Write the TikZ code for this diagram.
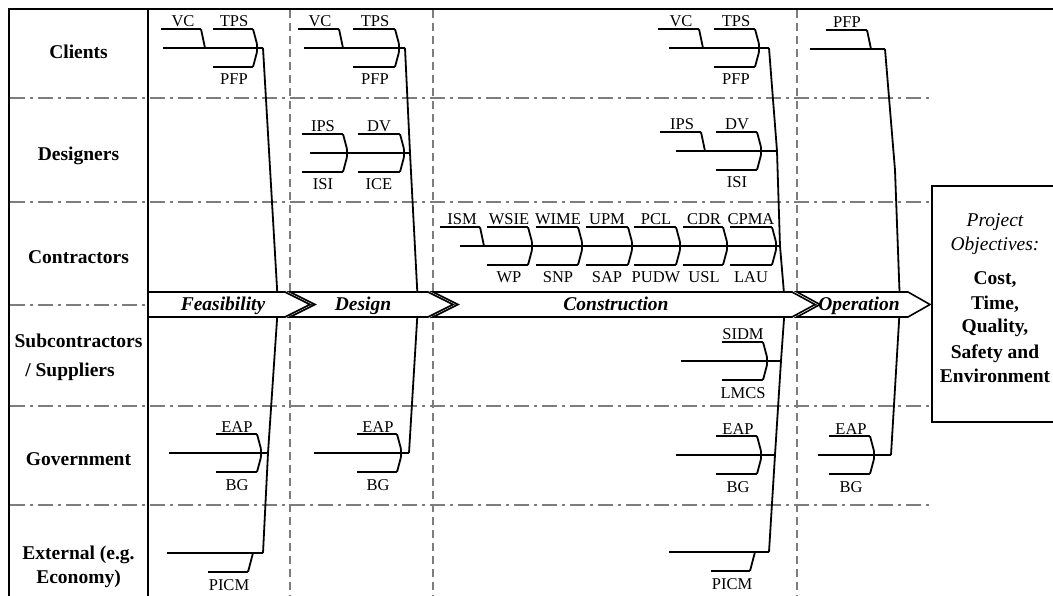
\documentclass[tikz,border=0pt]{standalone}
\usepackage{fontspec}
\setmainfont{Liberation Serif}
\definecolor{sepgray}{RGB}{125,125,125}
\tikzset{
  frame/.style={line width=2.8pt, black},
  hsep/.style={sepgray, line width=2.7pt, dash pattern=on 15pt off 5pt on 3pt off 5pt},
  vsep/.style={sepgray, line width=2.5pt, dash pattern=on 8pt off 5pt},
  bone/.style={line width=1.8pt, black, rounded corners=1pt},
  phasebox/.style={draw=black, fill=white, line width=1.6pt, line join=miter},
  lab/.style={font=\fontsize{16.5}{18}\selectfont, anchor=base, inner sep=0pt},
  rowlab/.style={font=\fontsize{19.5}{22}\selectfont\bfseries, anchor=base, inner sep=0pt},
  phaselab/.style={font=\fontsize{19.5}{22}\selectfont\bfseries\itshape, anchor=base, inner sep=0pt},
  objit/.style={font=\fontsize{19.5}{22}\selectfont\itshape, anchor=base, inner sep=0pt},
  objbf/.style={font=\fontsize{19.5}{22}\selectfont\bfseries, anchor=base, inner sep=0pt},
}
\newcommand\fbpair[7]{%
  \draw[bone] (#2,#4-19) -- (#3,#4-19) -- (#3+4,#4-4) -- (#3+4,#4+4) -- (#3,#4+19) -- (#2,#4+19);
  \node[lab] (#1t) at (#7,#4-21) {#5};
  \node[lab] (#1b) at (#7,#4+37) {#6};}
\newcommand\fbtop[6]{%
  \draw[bone] (#2,#4-19) -- (#3,#4-19) -- (#3+4,#4);
  \node[lab] (#1) at (#6,#4-21) {#5};}
\newcommand\fbbot[6]{%
  \draw[bone] (#2,#4+19) -- (#3,#4+19) -- (#3+5,#4);
  \node[lab] (#1) at (#6,#4+37) {#5};}
\begin{document}
\begin{tikzpicture}[x=1pt,y=-1pt]
\useasboundingbox (0,0) rectangle (1053,596);
\clip (0,0) rectangle (1053,596);
% separators
\foreach \yy in {98,202,305,406,505} \draw[hsep] (10,\yy) -- (930,\yy);
\foreach \xx in {290,433,797} \draw[vsep] (\xx,10) -- (\xx,600);
% spines
\draw[bone] (263,48) -- (278,305) -- (268,453) -- (263,553);
\draw[bone] (405,48) -- (410,153) -- (418,305) -- (409,453);
\draw[bone] (769,48) -- (777,151) -- (780,246) -- (785,305) -- (781,361) -- (775,455) -- (769,552);
\draw[bone] (885,49) -- (895,170) -- (900,305) -- (891,455);
% main lines
\draw[bone] (163,48) -- (263,48);
\draw[bone] (304,48) -- (405,48);
\draw[bone] (310,153) -- (410,153);
\draw[bone] (169,453) -- (268,453);
\draw[bone] (167,553) -- (263,553);
\draw[bone] (314,453) -- (409,453);
\draw[bone] (669,48) -- (769,48);
\draw[bone] (676,151) -- (777,151);
\draw[bone] (460,246) -- (780,246);
\draw[bone] (681,361) -- (781,361);
\draw[bone] (676,455) -- (775,455);
\draw[bone] (669,552) -- (769,552);
\draw[bone] (810,49) -- (885,49);
\draw[bone] (818,455) -- (891,455);
% Feasibility
\fbtop{fvc}{161}{201}{48}{VC}{183}
\fbpair{ftps}{213}{253}{48}{TPS}{PFP}{234}
\fbpair{feap}{216}{257}{453}{EAP}{BG}{237}
\fbbot{fpicm}{208}{248}{553}{PICM}{229}
% Design
\fbtop{dvc}{298}{339}{48}{VC}{320}
\fbpair{dtps}{353}{395}{48}{TPS}{PFP}{375}
\fbpair{dips}{302}{343}{153}{IPS}{ISI}{323}
\fbpair{ddv}{358}{400}{153}{DV}{ICE}{379}
\fbpair{deap}{357}{397}{453}{EAP}{BG}{378}
% Construction
\fbtop{cvc}{658}{699}{48}{VC}{681}
\fbpair{ctps}{714}{755}{48}{TPS}{PFP}{736}
\fbtop{cips}{660}{701}{151}{IPS}{682}
\fbpair{cdv}{716}{757}{151}{DV}{ISI}{737}
\fbtop{cism}{440}{480}{246}{ISM}{462}
\fbpair{cwsie}{487}{528}{246}{WSIE}{WP}{509}
\fbpair{cwime}{536}{578}{246}{WIME}{SNP}{558}
\fbpair{cupm}{586}{628}{246}{UPM}{SAP}{607}
\fbpair{cpcl}{634}{676}{246}{PCL}{PUDW}{656}
\fbpair{ccdr}{683}{723}{246}{CDR}{USL}{704}
\fbpair{ccpma}{730}{772}{246}{CPMA}{LAU}{751}
\fbpair{csidm}{722}{763}{361}{SIDM}{LMCS}{743}
\fbpair{ceap}{716}{757}{455}{EAP}{BG}{738}
\fbbot{cpicm}{711}{750}{552}{PICM}{732}
% Operation
\fbtop{opfp}{826}{867}{49}{PFP}{847}
\fbpair{oeap}{829}{870}{455}{EAP}{BG}{851}
% phase arrows
\draw[phasebox] (148,292) -- (285,292) -- (310,304.5) -- (285,317) -- (148,317) -- cycle;
\draw[phasebox] (290,292) -- (428,292) -- (453,304.5) -- (428,317) -- (290,317) -- (315,304.5) -- cycle;
\draw[phasebox] (433,292) -- (792,292) -- (815,304.5) -- (792,317) -- (433,317) -- (458,304.5) -- cycle;
\draw[phasebox] (797,292) -- (908,292) -- (930,304.5) -- (908,317) -- (797,317) -- (820,304.5) -- cycle;
\node[phaselab] (pf) at (223,311) {Feasibility};
\node[phaselab] (pd) at (363,311) {Design};
\node[phaselab] (pc) at (616,311) {Construction};
\node[phaselab] (po) at (859,311) {Operation};
% frame
\draw[frame] (1060,9) -- (9,9) -- (9,600);
\draw[frame] (148,9) -- (148,600);
\draw[frame] (932,186) rectangle (1060,422);
% row labels
\node[rowlab] (r1) at (78.5,59) {Clients};
\node[rowlab] (r2) at (78.5,161) {Designers};
\node[rowlab] (r3) at (78.5,264) {Contractors};
\node[rowlab] (r4a) at (78.5,347) {Subcontractors};
\node[rowlab] (r4b) at (70,376) {/ Suppliers};
\node[rowlab] (r5) at (78.5,465) {Government};
\node[rowlab] (r6a) at (78.5,559) {External (e.g.};
\node[rowlab] (r6b) at (78.5,583) {Economy)};
% objectives
\node[objit] (o1) at (995,227) {Project};
\node[objit] (o2) at (995,251) {Objectives:};
\node[objbf] (o3) at (995,285) {Cost,};
\node[objbf] (o4) at (995,309) {Time,};
\node[objbf] (o5) at (995,333) {Quality,};
\node[objbf] (o6) at (995,358) {Safety and};
\node[objbf] (o7) at (995,382) {Environment};
\end{tikzpicture}
\end{document}
